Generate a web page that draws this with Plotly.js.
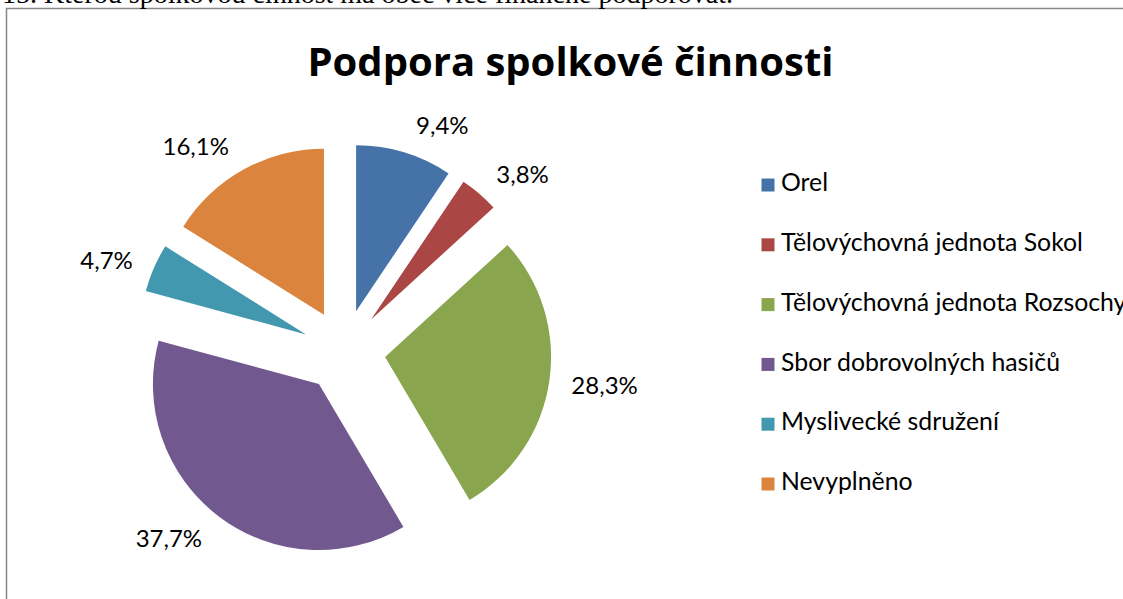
<!DOCTYPE html>
<html>
<head>
<meta charset="utf-8">
<script src="https://cdn.plot.ly/plotly-3.0.1.min.js"></script>
<style>html,body{margin:0;padding:0;background:#fff}#chart{width:1123px;height:599px}</style>
</head>
<body>
<div id="chart"></div>
<script>
var categories = ["Orel", "Tělovýchovná jednota Sokol", "Tělovýchovná jednota Rozsochy", "Sbor dobrovolných hasičů", "Myslivecké sdružení", "Nevyplněno"];
var percentValues = [9.4, 3.8, 28.3, 37.7, 4.7, 16.1];
var colors = ["#4572A7", "#AA4643", "#89A54E", "#71588F", "#4198AF", "#DB843D"];
var legendIndex = [0, 1, 2, 3, 4, 5];
var legendX = [0, 0, 0, 0, 0, 0];
var chartTitle = "Podpora spolkové činnosti";
var pageText = "15. Kterou spolkovou činnost má obec více finančně podporovat.";

var labelFont = {family: "Lato, sans-serif", size: 24, color: "#000"};

// visible exploded pie (slices only)
var pie = {
  type: "pie",
  labels: categories,
  values: percentValues,
  sort: false,
  direction: "clockwise",
  rotation: 0,
  pull: 0.25,
  marker: {colors: colors, line: {width: 0}},
  textinfo: "none",
  domain: {x: [0.1216, 0.4911], y: [0.0676, 0.7604]},
  showlegend: false,
  hoverinfo: "label+percent"
};

// same pie, transparent, used only to place the data labels a bit further out
var pieLabels = {
  type: "pie",
  labels: categories,
  values: percentValues,
  sort: false,
  direction: "clockwise",
  rotation: 0,
  pull: 0.34,
  marker: {colors: colors.map(function(){return "rgba(0,0,0,0)";}), line: {width: 0}},
  texttemplate: "%{value:.1f}%",
  textposition: "outside",
  outsidetextfont: labelFont,
  domain: {x: [0.1082, 0.5045], y: [0.0426, 0.7855]},
  showlegend: false,
  hoverinfo: "skip"
};

var legendMarkers = {
  type: "scatter",
  mode: "markers",
  x: legendX,
  y: legendIndex,
  marker: {symbol: "square", size: 13, color: colors},
  showlegend: false,
  hoverinfo: "skip",
  cliponaxis: false
};

var legendText = {
  type: "scatter",
  mode: "text",
  x: legendX.map(function(v){return v + 13;}),
  y: legendIndex,
  text: categories,
  textposition: "middle right",
  textfont: {family: "Lato, sans-serif", size: 24.8, color: "#000"},
  showlegend: false,
  hoverinfo: "skip",
  cliponaxis: false
};

var layout = {
  width: 1123, height: 599,
  margin: {l: 0, r: 0, t: 0, b: 0},
  paper_bgcolor: "#fff", plot_bgcolor: "rgba(0,0,0,0)",
  separators: ", ",
  showlegend: false,
  title: {text: chartTitle, font: {family: "Open Sans, sans-serif", size: 40, color: "#000", weight: "bold"}, x: 0.508, xanchor: "center", y: 1 - 62/599, yanchor: "middle", yref: "container"},
  xaxis: {visible: false, domain: [0, 1], range: [-768, 355], fixedrange: true},
  yaxis: {visible: false, domain: [0, 1], range: [6.923, -3.094], fixedrange: true},
  shapes: [{type: "rect", xref: "paper", yref: "paper", x0: 6.5/1123, x1: 1.2, y0: -0.2, y1: 1 - 8.5/599, line: {color: "#878787", width: 1.5}, fillcolor: "rgba(0,0,0,0)", layer: "below"}],
  annotations: [{text: pageText, xref: "paper", yref: "paper", x: 0, y: 1, xanchor: "left", yanchor: "top", yshift: 24, showarrow: false, font: {family: "Liberation Serif, serif", size: 28, color: "#000"}}]
};

Plotly.newPlot("chart", [pie, pieLabels, legendMarkers, legendText], layout, {displayModeBar: false, staticPlot: true});
</script>
</body>
</html>
